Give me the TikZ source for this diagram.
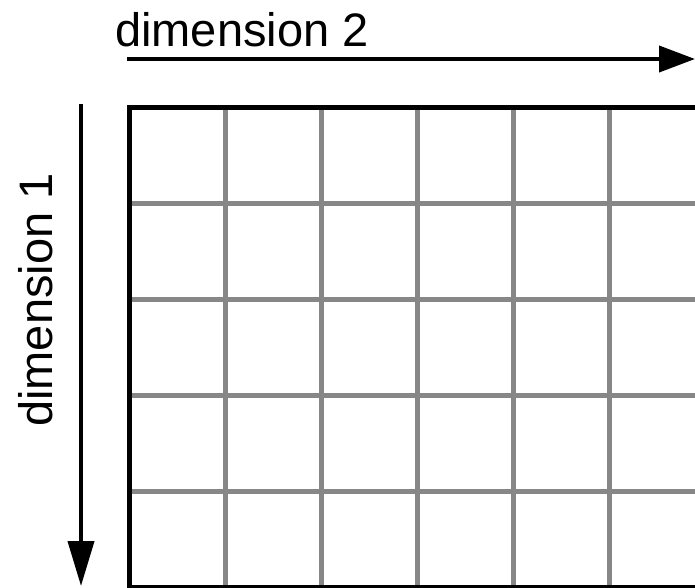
\documentclass[tikz,border=0pt]{standalone}
\usepackage{fontspec}
\setmainfont{Liberation Sans}
\usetikzlibrary{arrows.meta}
\begin{document}
\begin{tikzpicture}[x=1pt,y=-1pt,
  gridline/.style={draw=black!47, line width=5pt},
  border/.style={draw=black, line width=5pt},
  axis/.style={draw=black, line width=4pt, -{Triangle[length=36pt,width=26pt]}},
  lbl/.style={font=\fontsize{47}{56}\selectfont, inner sep=0pt}]
\path[use as bounding box] (0,0) rectangle (695,587);
\clip (0,0) rectangle (695,587);
% grid
\foreach \x in {225,321,417,513,609} \draw[gridline] (\x,107) -- (\x,587);
\foreach \y in {203,299,395,491} \draw[gridline] (129,\y) -- (705,\y);
\draw[border] (129,107) rectangle (705,587);
% axes
\coordinate (h0) at (127,59);
\coordinate (h1) at (695,59);
\coordinate (v0) at (81,104);
\coordinate (v1) at (81,586);
\draw[axis] (h0) -- (h1);
\draw[axis,-{Triangle[length=45pt,width=26pt]}] (v0) -- (v1);
\node[lbl, anchor=base west] (d2) at (115,46) {dimension 2};
\node[lbl, anchor=base west, rotate=90] (d1) at (52,427) {dimension 1};
\end{tikzpicture}
\end{document}
